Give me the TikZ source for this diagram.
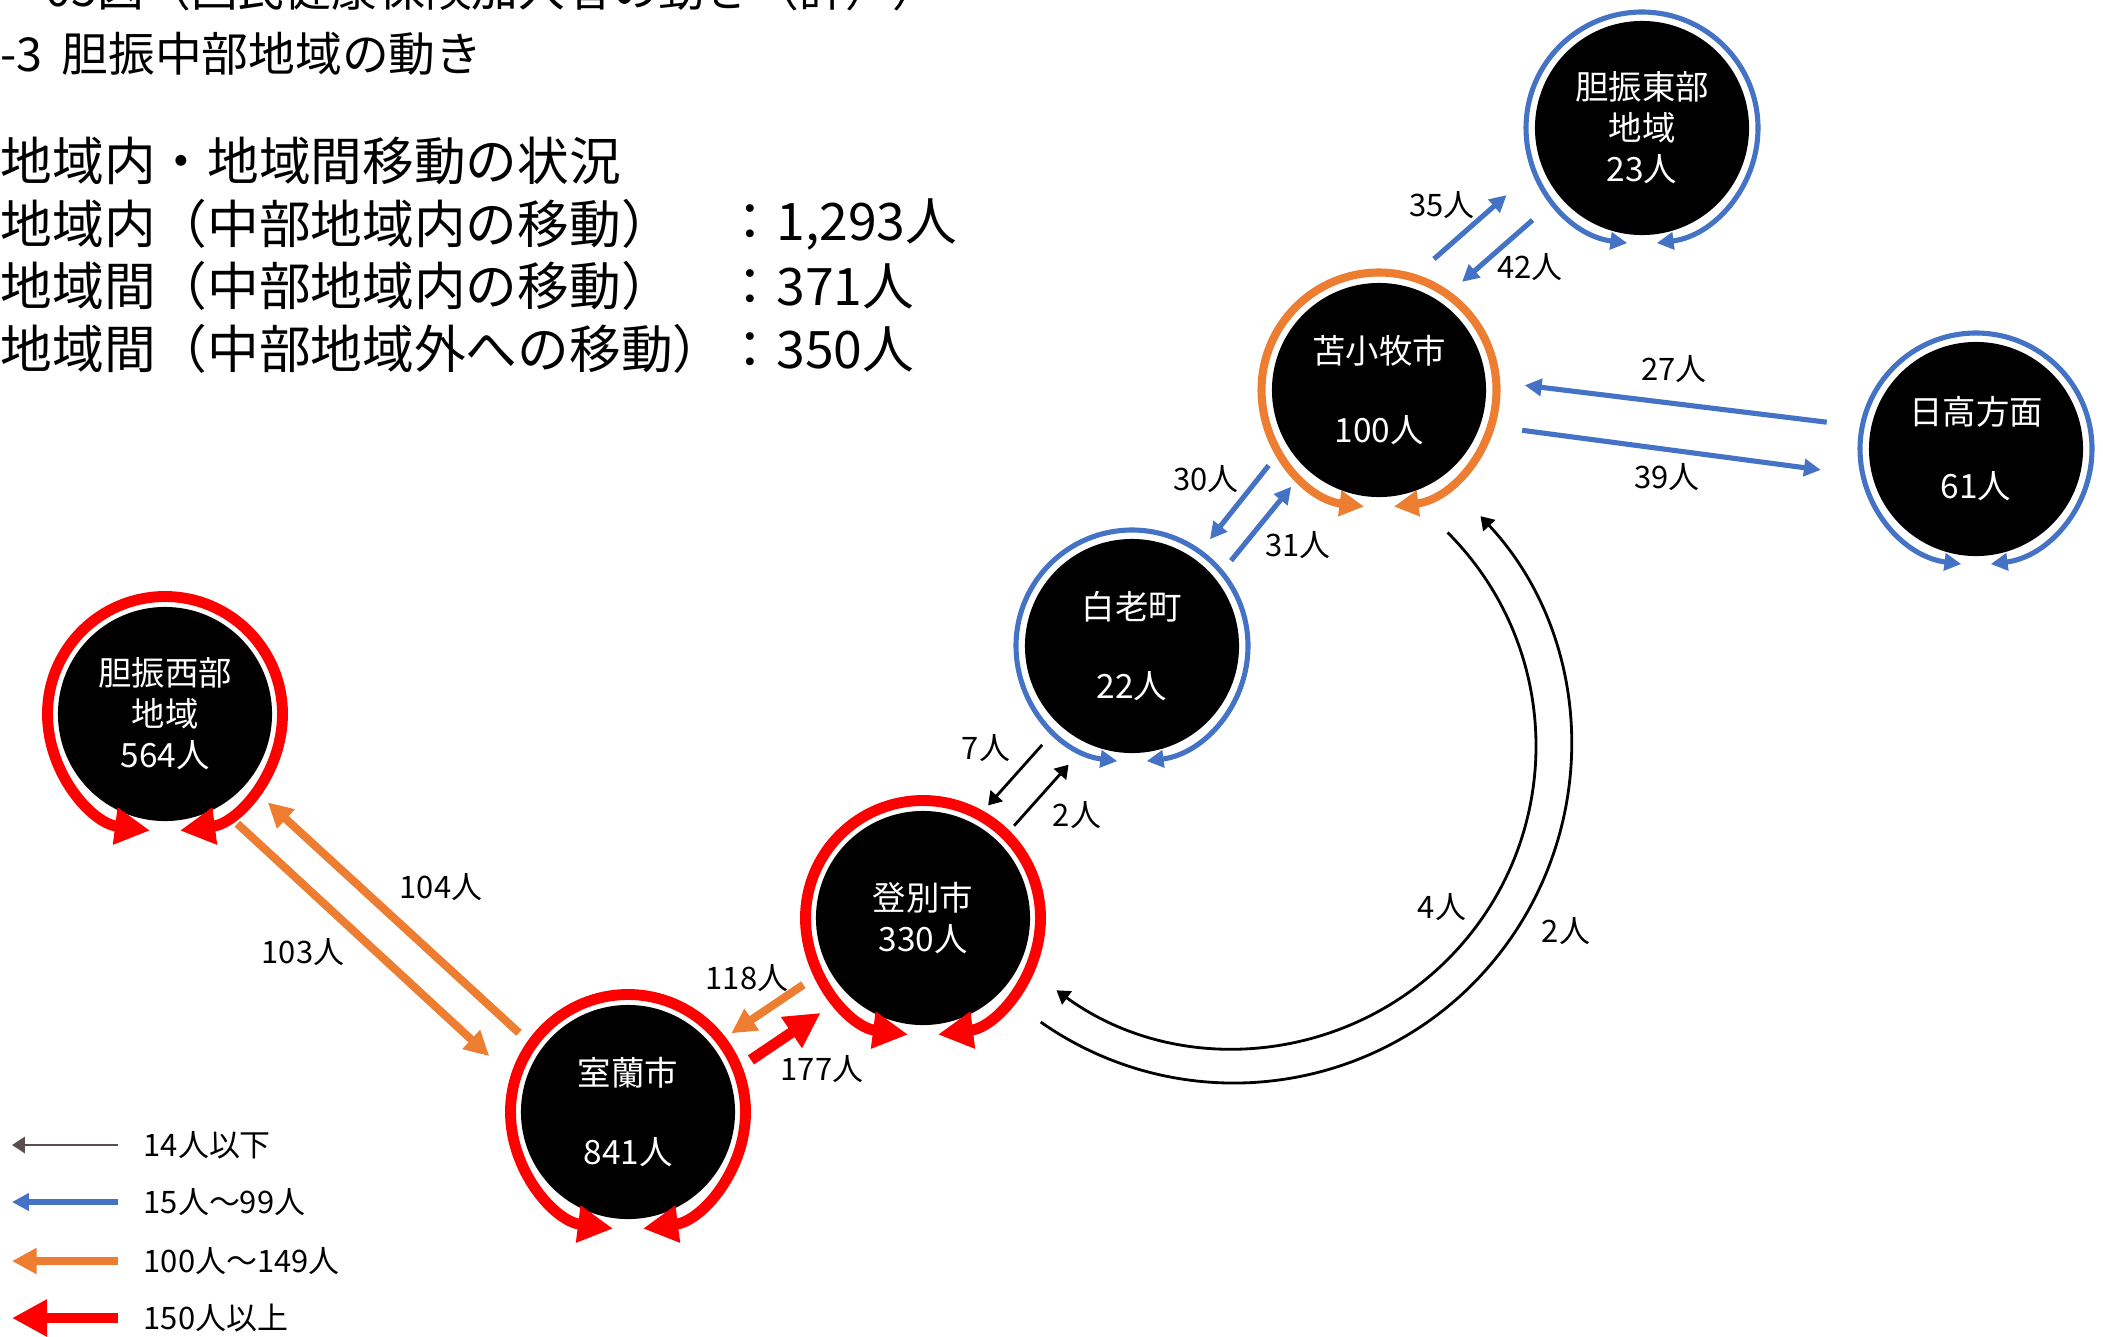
\documentclass[tikz,border=0pt]{standalone}
\usepackage{fontspec}
\setmainfont{Noto Sans CJK JP}
\usetikzlibrary{arrows.meta}
\usetikzlibrary{calc}
\definecolor{flowblue}{RGB}{68,114,196}
\definecolor{floworange}{RGB}{237,125,49}
\definecolor{flowred}{RGB}{255,0,0}
\definecolor{keygray}{RGB}{89,79,79}
\newcommand{\nodefont}{\fontsize{9.5pt}{11.7pt}\selectfont}
\newcommand{\numfont}{\fontsize{8.8pt}{10pt}\selectfont}
\newcommand{\bigfont}{\fontsize{14.7pt}{17pt}\selectfont}
\newcommand{\headfont}{\fontsize{13.3pt}{16pt}\selectfont}
\tikzset{town/.style={circle,fill=black,text=white,minimum size=2.14cm,inner sep=0pt,align=center,font=\nodefont}}
\tikzset{few/.style={color=#1,line width=0.8pt,-{Triangle[length=3.7pt,width=4.6pt]}},few/.default=black}
\tikzset{mid/.style={color=#1,line width=1.45pt,-{Triangle[length=4.8pt,width=4.8pt]}},mid/.default=flowblue}
\tikzset{many/.style={color=#1,line width=2.3pt,-{Triangle[length=7pt,width=7pt]}},many/.default=floworange}
\tikzset{most/.style={color=#1,line width=3.1pt,-{Triangle[length=10pt,width=10pt]}},most/.default=flowred}
\tikzset{num/.style={font=\numfont,inner sep=0pt}}
\tikzset{note/.style={anchor=west,inner sep=0pt,font=\bigfont}}
% two arcs round a town, meeting at the bottom
\newcommand{\townring}[3]{%
  \draw [#2] ([shift={(90:#3)}]#1.center) arc [start angle=90,end angle=262.7,radius=#3];
  \draw [#2] ([shift={(90:#3)}]#1.center) arc [start angle=90,end angle=-82.7,radius=#3];}

\begin{document}
\begin{tikzpicture}[x=0.01cm,y=0.01cm]
	\fill [white,use as bounding box] (0,0) rectangle (2103,-1336);

	% headings
	\node [anchor=base west,inner sep=0pt,font=\headfont] (head0) at (45,-6) {05図（国民健康保険加入者の動き（計））};
	\node [anchor=west,inner sep=0pt,font=\headfont] (head1) at (0,-54) {-3\hspace{0.4em}胆振中部地域の動き};
	\node [note] (sum0) at (0,-161) {地域内・地域間移動の状況};
	\node [note] (sum1) at (0,-224) {地域内（中部地域内の移動）};
	\node [note] (sum2) at (0,-286) {地域間（中部地域内の移動）};
	\node [note] (sum3) at (0,-349) {地域間（中部地域外への移動）};
	\node [note] (val1) at (724,-224) {：1,293人};
	\node [note] (val2) at (724,-286) {：371人};
	\node [note] (val3) at (724,-349) {：350人};

	% towns
	\node [town] (higashi) at (1642,-128) {胆振東部\\地域\\23人};
	\node [town] (tomako) at (1379,-390) {苫小牧市\\[11pt]100人};
	\node [town] (hidaka) at (1976,-449) {日高方面\\[9.3pt]61人};
	\node [town] (shiraoi) at (1132,-646) {白老町\\[11pt]22人};
	\node [town] (nobori) at (923,-918) {登別市\\330人};
	\node [town] (muroran) at (628,-1112) {室蘭市\\[11pt]841人};
	\node [town] (nishi) at (165,-714) {胆振西部\\地域\\564人};

	\townring{higashi}{mid}{116}
	\townring{tomako}{many}{117.5}
	\townring{hidaka}{mid}{116}
	\townring{shiraoi}{mid}{116}
	\townring{nobori}{most}{117.5}
	\townring{muroran}{most}{117.5}
	\townring{nishi}{most}{117.5}

	% flows
	\draw [mid] ($(tomako)!0.354!(higashi)!0.54cm!90:(higashi)$) -- ($(tomako)!0.614!(higashi)!0.48cm!90:(higashi)$);
	\draw [mid] ($(tomako)!0.616!(higashi)!0.12cm!90:(higashi)$) -- ($(tomako)!0.364!(higashi)!0.18cm!90:(higashi)$);
	\draw [mid] ($(tomako)!0.244!(hidaka)!0.26cm!-90:(hidaka)$) -- ($(tomako)!0.746!(hidaka)!0.36cm!-90:(hidaka)$);
	\draw [mid] ($(tomako)!0.748!(hidaka)!0.12cm!90:(hidaka)$) -- ($(tomako)!0.241!(hidaka)!0.19cm!90:(hidaka)$);
	\draw [mid] ($(tomako)!0.368!(shiraoi)!0.27cm!-90:(shiraoi)$) -- ($(tomako)!0.632!(shiraoi)!0.18cm!-90:(shiraoi)$);
	\draw [mid] ($(tomako)!0.634!(shiraoi)!0.12cm!90:(shiraoi)$) -- ($(tomako)!0.367!(shiraoi)!0.04cm!90:(shiraoi)$);
	\draw [few] ($(shiraoi)!0.388!(nobori)!0.11cm!-90:(nobori)$) -- ($(shiraoi)!0.624!(nobori)!0.17cm!-90:(nobori)$);
	\draw [few] ($(shiraoi)!0.625!(nobori)!0.16cm!90:(nobori)$) -- ($(shiraoi)!0.387!(nobori)!0.22cm!90:(nobori)$);
	\draw [many] ($(nobori)!0.387!(muroran)!0.10cm!-90:(muroran)$) -- ($(nobori)!0.633!(muroran)!0.09cm!-90:(muroran)$);
	\draw [most] ($(nobori)!0.628!(muroran)!0.24cm!90:(muroran)$) -- ($(nobori)!0.39!(muroran)!0.23cm!90:(muroran)$);
	\draw [many] ($(muroran)!0.22!(nishi)!0.11cm!90:(nishi)$) -- ($(muroran)!0.778!(nishi)!0cm!90:(nishi)$);
	\draw [many] ($(muroran)!0.793!(nishi)!0.36cm!90:(nishi)$) -- ($(muroran)!0.232!(nishi)!0.48cm!90:(nishi)$);

	\coordinate (bend) at (1234,-746);
	\draw [few] ([shift={(45:302)}]bend) arc [start angle=45,end angle=-126,radius=302];
	\draw [few] ([shift={(-125:337)}]bend) arc [start angle=-125,end angle=43,radius=337];

	% counts
	\node [num] (n35) at (1442,-205) {35人};
	\node [num] (n42) at (1530,-267) {42人};
	\node [num] (n27) at (1674,-369) {27人};
	\node [num] (n39) at (1667,-477) {39人};
	\node [num] (n30) at (1206,-479) {30人};
	\node [num] (n31) at (1298,-545) {31人};
	\node [num] (n7) at (986,-748) {7人};
	\node [num] (n2a) at (1077,-815) {2人};
	\node [num] (n118) at (747,-978) {118人};
	\node [num] (n177) at (822,-1069) {177人};
	\node [num] (n104) at (441,-887) {104人};
	\node [num] (n103) at (303,-952) {103人};
	\node [num] (n4) at (1442,-907) {4人};
	\node [num] (n2b) at (1566,-931) {2人};

	% key
	\node [num,anchor=west] (key1) at (143,-1145) {14人以下};
	\node [num,anchor=west] (key2) at (143,-1202) {15人～99人};
	\node [num,anchor=west] (key3) at (143,-1261) {100人～149人};
	\node [num,anchor=west] (key4) at (143,-1318) {150人以上};
	\draw [few=keygray] ([xshift=-0.25cm]key1.west) -- ++(-106,0);
	\draw [mid] ([xshift=-0.25cm]key2.west) -- ++(-106,0);
	\draw [many] ([xshift=-0.25cm]key3.west) -- ++(-106,0);
	\draw [most] ([xshift=-0.25cm]key4.west) -- ++(-106,0);
\end{tikzpicture}
\end{document}
